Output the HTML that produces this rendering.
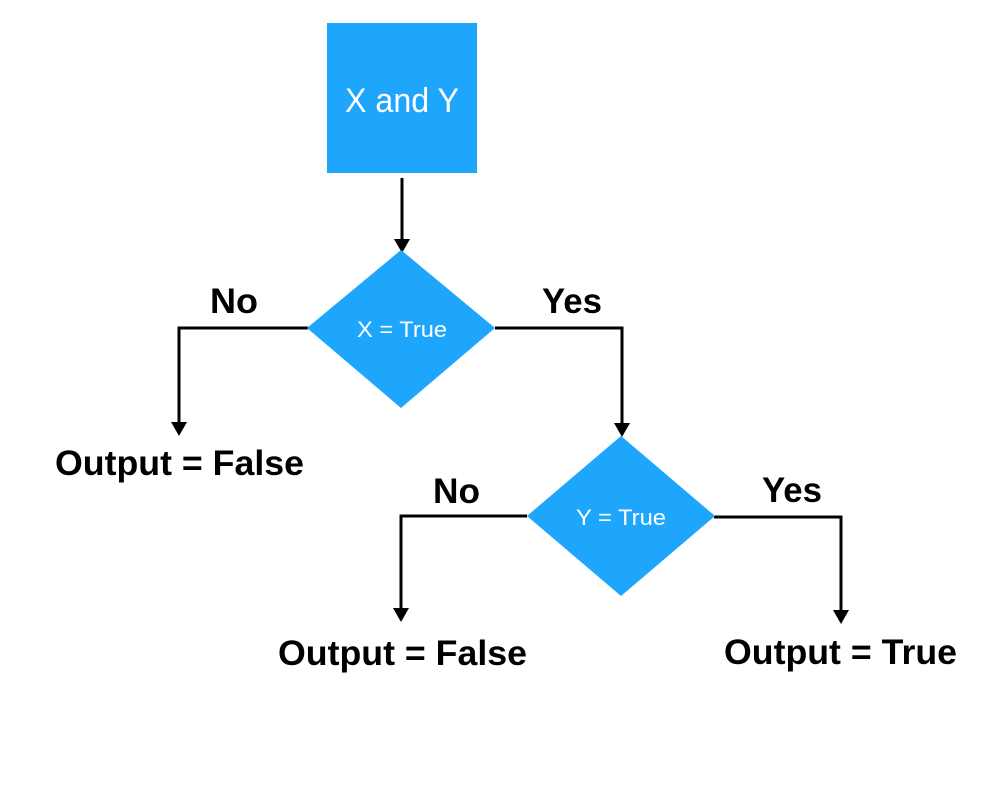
<!DOCTYPE html>
<html><head><meta charset="utf-8"><style>html,body{margin:0;padding:0;background:#fff}svg{display:block}</style></head>
<body>
<svg width="1000" height="810" viewBox="0 0 1000 810" xmlns="http://www.w3.org/2000/svg" font-family="Liberation Sans, Arial, sans-serif">
<rect x="327" y="23" width="150" height="150" fill="#1ea5fc"/>
<text x="402" y="112" font-size="34" fill="#fff" text-anchor="middle" textLength="114" lengthAdjust="spacingAndGlyphs">X and Y</text>
<g stroke="#000" stroke-width="3" fill="none">
<line x1="402" y1="178" x2="402" y2="242"/>
<polyline points="308,328 179,328 179,425"/>
<polyline points="495,328 622,328 622,426"/>
<polyline points="527,516 401,516 401,611"/>
<polyline points="714,517 841,517 841,613"/>
</g>
<g fill="#000">
<polygon points="394,239 410,239 402,253"/>
<polygon points="171,422 187,422 179,436"/>
<polygon points="614,423 630,423 622,437"/>
<polygon points="393,608 409,608 401,622"/>
<polygon points="833,610 849,610 841,624"/>
</g>
<polygon points="401,250 495,328 401,408 307,328" fill="#1ea5fc"/>
<polygon points="621,436 715,516 621,596 527,516" fill="#1ea5fc"/>
<text x="402" y="337" font-size="22" fill="#fff" text-anchor="middle" textLength="90" lengthAdjust="spacingAndGlyphs">X = True</text>
<text x="621" y="525" font-size="22" fill="#fff" text-anchor="middle" textLength="90" lengthAdjust="spacingAndGlyphs">Y = True</text>
<g font-weight="bold" font-size="35" fill="#000">
<text x="210" y="313" textLength="48" lengthAdjust="spacingAndGlyphs">No</text>
<text x="542" y="313" textLength="60" lengthAdjust="spacingAndGlyphs">Yes</text>
<text x="433" y="503" textLength="47" lengthAdjust="spacingAndGlyphs">No</text>
<text x="762" y="502" textLength="60" lengthAdjust="spacingAndGlyphs">Yes</text>
<text x="55" y="475" textLength="249" lengthAdjust="spacingAndGlyphs">Output = False</text>
<text x="278" y="665" textLength="249" lengthAdjust="spacingAndGlyphs">Output = False</text>
<text x="724" y="664" textLength="233" lengthAdjust="spacingAndGlyphs">Output = True</text>
</g>
</svg>
</body></html>
